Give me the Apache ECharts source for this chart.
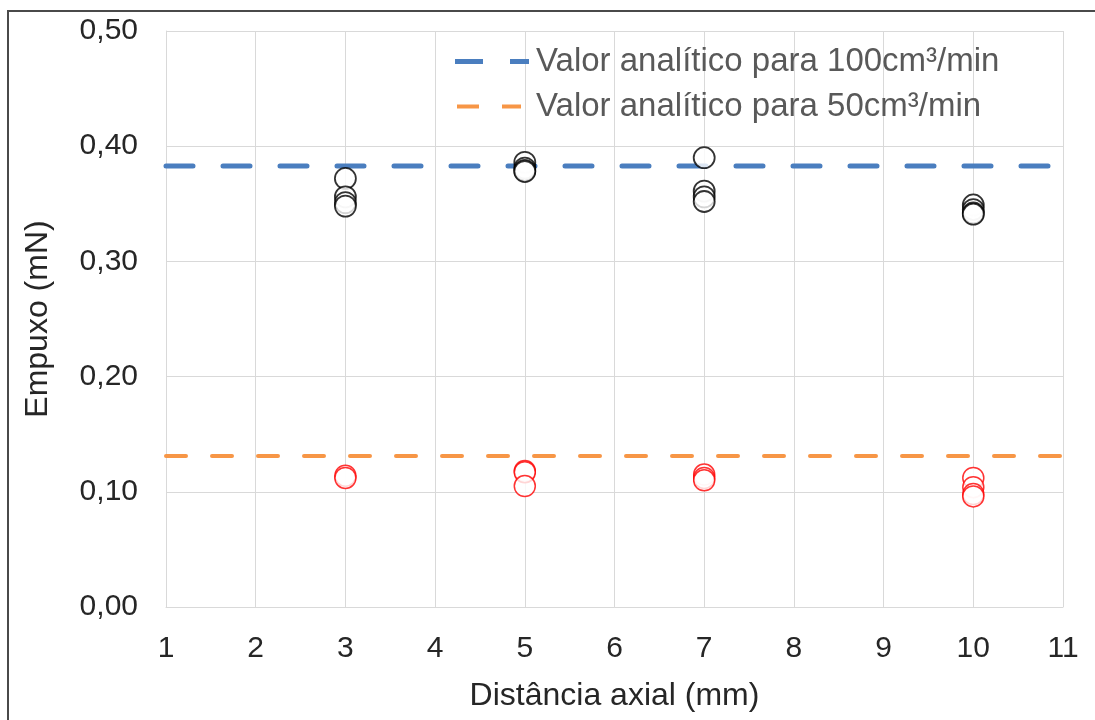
<!DOCTYPE html>
<html>
<head>
<meta charset="utf-8">
<script src="https://cdn.jsdelivr.net/npm/echarts@6/dist/echarts.min.js"></script>
<style>
  html, body { margin: 0; padding: 0; background: #fff; overflow: hidden; }
  #frame { position: absolute; left: 7px; top: 10px; width: 1100px; height: 720px; border: 2px solid #4a4a4a; box-sizing: border-box; }
  #chart { position: absolute; left: 0; top: 0; width: 1095px; height: 720px; }
</style>
</head>
<body>
<div id="frame"></div>
<div id="chart"></div>
<script>
// Axial distance (mm) and measured thrust (mN)
const flow100X = [3, 3, 3, 3, 5, 5, 5, 5, 7, 7, 7, 7, 10, 10, 10, 10];
const flow100Y = [0.372, 0.356, 0.351, 0.348, 0.386, 0.381, 0.379, 0.378, 0.390, 0.361, 0.356, 0.352, 0.349, 0.345, 0.342, 0.341];
const flow50X = [3, 3, 5, 5, 5, 7, 7, 7, 10, 10, 10, 10];
const flow50Y = [0.114, 0.112, 0.118, 0.117, 0.105, 0.115, 0.112, 0.110, 0.112, 0.104, 0.098, 0.096];

// Analytical thrust values
const analytic100 = 0.3828;
const analytic50 = 0.131;
const analyticSpan = [1, 11];

const legendNames = ['Valor analítico para 100cm³/min', 'Valor analítico para 50cm³/min'];
const xTitle = 'Distância axial (mm)';
const yTitle = 'Empuxo (mN)';

const pairs = (xs, ys) => xs.map((x, i) => [x, ys[i]]);
const flat = (v) => analyticSpan.map(x => [x, v]);

// Two-dash legend glyphs (tiny corner squares keep the 78x6 bounding box)
const corners = 'M0,0 L0.01,0 L0.01,0.01 Z M78,6 L77.99,6 L77.99,5.99 Z ';
const iconLongDash = 'path://' + corners + 'M2,0.5 L30,0.5 L30,5.5 L2,5.5 Z M57,0.5 L76,0.5 L76,5.5 L57,5.5 Z';
const iconShortDash = 'path://' + corners + 'M4,1 L26,1 L26,5 L4,5 Z M49,1 L68,1 L68,5 L49,5 Z';

const chart = echarts.init(document.getElementById('chart'));
const font = 'Liberation Sans, Arial, sans-serif';

chart.setOption({
  animation: false,
  backgroundColor: 'transparent',
  grid: { left: 166, right: 32, top: 31, bottom: 113 },
  legend: {
    data: [
      { name: legendNames[0], icon: iconLongDash, itemStyle: { color: '#4a7ebf' } },
      { name: legendNames[1], icon: iconShortDash, itemStyle: { color: '#f79646' } }
    ],
    orient: 'vertical',
    left: 453,
    top: 45,
    padding: 0,
    itemWidth: 78,
    itemHeight: 6,
    itemGap: 12,
    textStyle: { fontFamily: font, fontSize: 33, color: '#595959' }
  },
  xAxis: {
    type: 'value', min: 1, max: 11, interval: 1,
    name: xTitle, nameLocation: 'middle', nameGap: 73,
    nameTextStyle: { fontFamily: font, fontSize: 32, color: '#262626' },
    axisLine: { show: true, lineStyle: { color: '#d9d9d9', width: 1 } },
    axisTick: { show: false },
    axisLabel: { fontFamily: font, fontSize: 30, color: '#262626', margin: 27 },
    splitLine: { show: true, lineStyle: { color: '#d9d9d9', width: 1 } }
  },
  yAxis: {
    type: 'value', min: 0, max: 0.5, interval: 0.1,
    name: yTitle, nameLocation: 'middle', nameGap: 112, nameRotate: 90,
    nameTextStyle: { fontFamily: font, fontSize: 32, color: '#262626' },
    axisLine: { show: true, lineStyle: { color: '#d9d9d9', width: 1 } },
    axisTick: { show: false },
    axisLabel: {
      fontFamily: font, fontSize: 30, color: '#262626', margin: 28,
      formatter: v => v.toFixed(2).replace('.', ',')
    },
    splitLine: { show: true, lineStyle: { color: '#d9d9d9', width: 1 } }
  },
  series: [
    {
      name: legendNames[0], type: 'line', data: flat(analytic100),
      symbol: 'none', color: '#4a7ebf',
      lineStyle: { color: '#4a7ebf', width: 5, type: [27, 30], cap: 'round' },
      z: 3
    },
    {
      name: legendNames[1], type: 'line', data: flat(analytic50),
      symbol: 'none', color: '#f79646',
      lineStyle: { color: '#f79646', width: 4, type: [20, 26], cap: 'round' },
      z: 3
    },
    {
      name: 'flow100', type: 'scatter', data: pairs(flow100X, flow100Y),
      symbol: 'circle', symbolSize: 21,
      itemStyle: { color: '#ffffff', borderColor: '#000000', borderWidth: 1.8 },
      z: 4
    },
    {
      name: 'flow50', type: 'scatter', data: pairs(flow50X, flow50Y),
      symbol: 'circle', symbolSize: 21,
      itemStyle: { color: '#ffffff', borderColor: '#ff0000', borderWidth: 1.5 },
      z: 4
    }
  ]
});
</script>
</body>
</html>
